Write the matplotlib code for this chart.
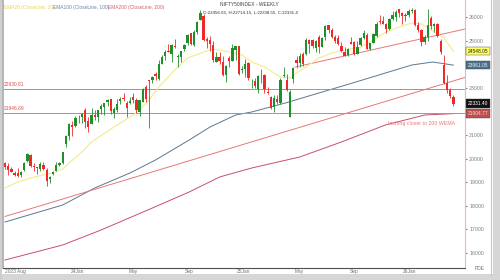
import numpy as np
import matplotlib
matplotlib.use("Agg")
import matplotlib.pyplot as plt
from matplotlib.lines import Line2D
from matplotlib.patches import Rectangle

plt.rcParams["font.family"] = ["Liberation Sans", "DejaVu Sans"]

GREEN = "#1f8f2a"
RED = "#f02828"
LINE_RED = "#e87878"

# weekly candles (Nifty 50)
opens = [19800, 19666, 19576, 19383, 19393, 19299, 19525, 19890, 20156, 19678,
         19622, 19539, 19738, 19521, 19141, 19365, 19487, 19731, 19796, 20601,
         20965, 21434, 21366, 21727, 21747, 22054, 21594, 21487, 21830, 21780,
         22095, 22169, 22403, 22517, 21946, 22051, 22455, 22579, 22339, 22336,
         22611, 22489, 21960, 22404, 23038, 23337, 23320, 23573, 23382, 23992,
         24329, 24565, 24445, 24791, 24302, 24320, 24637, 24907, 25333, 24823,
         25383, 25872, 26061, 25085, 25008, 24798, 24074, 24304, 24087, 23555,
         24253, 24140, 24620, 24753, 23738, 23801, 24046, 23195, 23290, 22941,
         23528, 23543, 22810, 22609, 22195, 22521, 22353, 23515, 23341, 21758,
         23368, 24191, 24070, 24420, 24420, 25005, 25010, 24669, 25160, 24732,
         25150, 25661, 25450, 25149, 25108, 24782, 24533, 24371, 24938, 24949,
         24432, 24802, 25118, 25239, 24634, 24899, 25182, 25844, 25844, 25696,
         25503, 25910, 26013, 26326, 26160, 26046, 26100, 26250, 26300, 25680,
         25450, 24950, 25150, 25950, 25600, 25700, 25000, 23950, 23200, 22900,
         22600]
highs = [19867, 19795, 19646, 19465, 19584, 19458, 19867, 20222, 20196, 19798,
         19661, 19849, 19843, 19593, 19276, 19464, 19876, 19875, 20291, 21006,
         21492, 21593, 21801, 21834, 21928, 22124, 21750, 22126, 22053, 22068,
         22297, 22353, 22526, 22527, 22180, 22516, 22619, 22775, 22427, 22625,
         22794, 22588, 22502, 22993, 23110, 23338, 23490, 23667, 24174, 24401,
         24592, 24854, 24861, 25078, 24419, 24563, 24867, 25268, 25333, 25433,
         25849, 26277, 26134, 25143, 25212, 24978, 24498, 24537, 24336, 23956,
         24354, 24857, 24792, 24781, 23939, 24226, 24089, 23391, 23426, 23546,
         23807, 23569, 23049, 22668, 22677, 22676, 23402, 23869, 23565, 22924,
         23873, 24359, 24457, 24526, 25116, 25071, 25080, 25030, 25223, 25136,
         25654, 25669, 25548, 25255, 25246, 24956, 24734, 24674, 25154, 24985,
         24980, 25139, 25449, 25331, 24912, 25331, 25781, 26104, 26033, 25764,
         25940, 26246, 26310, 26326, 26200, 26150, 26320, 26380, 26330, 25800,
         25500, 25250, 26350, 26050, 25750, 25750, 25050, 24400, 23540, 23000,
         22700]
lows = [19563, 19296, 19413, 19253, 19229, 19224, 19491, 19866, 19657, 19492,
        19333, 19480, 19518, 18838, 18973, 19309, 19487, 19706, 19768, 20507,
        20769, 20976, 21329, 21501, 21492, 21285, 21137, 21449, 21629, 21530,
        21876, 21861, 22244, 21905, 21710, 21985, 22303, 22458, 21778, 22306,
        22349, 21932, 21821, 22404, 22417, 21281, 23206, 23350, 23350, 23992,
        24168, 24508, 24074, 24686, 23893, 24099, 24563, 24819, 24801, 24753,
        25285, 25872, 24966, 24694, 24567, 24073, 24073, 24004, 23484, 23263,
        23873, 24140, 24180, 23537, 23647, 23460, 23344, 22986, 22976, 22787,
        23222, 22774, 22720, 22105, 21964, 22315, 22314, 23451, 22857, 21743,
        23207, 23847, 23889, 23936, 24379, 24462, 24671, 24527, 24474, 24720,
        25010, 25331, 25129, 24918, 24806, 24535, 24337, 24344, 24852, 24404,
        24432, 24751, 25085, 24630, 24588, 24877, 25152, 25718, 25711, 25318,
        25449, 25886, 25842, 25982, 25700, 25850, 26000, 26150, 25600, 25350,
        24750, 24850, 25000, 25500, 25350, 25150, 24450, 23150, 22800, 22550,
        22250]
closes = [19646, 19517, 19428, 19310, 19265, 19435, 19820, 20192, 19674, 19638,
          19653, 19751, 19542, 19047, 19230, 19425, 19732, 19795, 20268, 20969,
          21457, 21349, 21731, 21711, 21895, 21572, 21353, 21854, 21783, 22041,
          22213, 22339, 22494, 22023, 22097, 22327, 22514, 22519, 22147, 22420,
          22476, 22055, 22466, 22957, 22531, 23290, 23465, 23501, 24010, 24323,
          24502, 24530, 24834, 24718, 24367, 24541, 24823, 25236, 24852, 25356,
          25791, 26178, 25014, 24964, 24854, 24181, 24304, 24148, 23532, 23907,
          24131, 24677, 24768, 23588, 23813, 24005, 23432, 23203, 23092, 23508,
          23560, 22929, 22796, 22125, 22552, 22397, 23350, 23519, 22904, 22829,
          23851, 24039, 24346, 24008, 25019, 24853, 24751, 25003, 24718, 25112,
          25637, 25461, 25150, 24968, 24837, 24565, 24363, 24631, 24870, 24427,
          24741, 25114, 25327, 24655, 24894, 25285, 25710, 25795, 25722, 25492,
          25910, 26068, 26203, 26186, 26046, 26100, 26250, 26300, 25680, 25450,
          24950, 25150, 25650, 25600, 25700, 25200, 24500, 23200, 22900, 22650,
          22331.4]

# moving averages (week index, value)
ema20_x = [0, 4, 9, 15, 18, 20, 24, 27, 34, 41, 45, 48, 53, 57, 62, 65, 70, 74,
           77, 81, 86, 89, 91, 94, 98, 102, 106, 111, 115, 119, 123, 127, 130,
           134, 137, 140]
ema20_y = [18755, 19009, 19221, 19390, 19560, 19814, 20280, 20704, 21339, 21932,
           22483, 23034, 23754, 24263, 24517, 24644, 24517, 24390, 24093, 23882,
           23458, 23415, 23627, 23882, 24263, 24475, 24602, 24729, 25025, 25364,
           25576, 25746, 25703, 25364, 25110, 24548]
ema100_x = [0, 18, 28, 39, 47, 57.5, 64, 72, 77, 87.5, 98, 108.5, 118.75, 127,
            133.5, 140]
ema100_y = [17314, 18034, 18755, 19390, 19941, 20788, 21339, 21847, 21975, 22356,
            22780, 23203, 23627, 23966, 24093, 23961]
ema200_x = [0, 18, 30, 46, 57.5, 67, 77, 92, 105, 118.75, 131, 140]
ema200_y = [15704, 16340, 16975, 17907, 18585, 19221, 19602, 20068, 20704,
            21424, 21847, 21905]

# drawn trend lines and levels
trend_low_x = [0, 143.6]
trend_low_y = [17550, 23440]
trend_high_x = [90.6, 143.6]
trend_high_y = [23880, 25490]
levels = [22930.81, 21946.69]
level_labels = ["22930.81", "21946.69"]

yticks = [16000, 17000, 18000, 19000, 20000, 21000, 23000, 25000, 26000]
xtick_pos = [0, 22.6, 40, 57.5, 74.6, 91.7, 109, 126.4]
xtick_lab = ["2023 Aug", "24Jan", "May", "Sep", "25Jan", "May", "Sep", "26Jan"]

value_boxes = [("24548.05", 24548.05, "#ffff66", "#222222"),
               ("23961.05", 23961.05, "#4a708b", "#e8eef4"),
               ("22331.40", 22331.40, "#111111", "#ffffff"),
               ("21904.77", 21904.77, "#c05050", "#f4d0d0")]

W, H = 500, 280
fig = plt.figure(figsize=(5, 2.8), dpi=100, facecolor="white")
ax = fig.add_axes([3 / W, 12 / H, 462 / W, 268 / H])

idx = np.arange(len(closes))
o = np.array(opens, float)
c = np.array(closes, float)
cols = np.where(c >= o, GREEN, RED)

ax.plot(ema200_x, ema200_y, color="#c8506a", lw=0.7, zorder=2)
ax.plot(ema100_x, ema100_y, color="#5a7890", lw=0.7, zorder=2)
ax.plot(trend_low_x, trend_low_y, color=LINE_RED, lw=0.7, zorder=2)
ax.plot(trend_high_x, trend_high_y, color=LINE_RED, lw=0.7, zorder=2)
for lv in levels:
    ax.axhline(lv, color=LINE_RED, lw=0.7, zorder=2)
ax.plot(ema20_x, ema20_y, color="#f2ec88", lw=0.8, zorder=2)

ax.vlines(idx, lows, highs, colors=cols, lw=0.6, zorder=3)
ax.bar(idx, np.maximum(np.abs(c - o), 20), bottom=np.minimum(o, c),
       width=0.72, color=cols, linewidth=0, zorder=4)

ax.set_xlim(-0.63, 143.6)
ax.set_ylim(15365, 26720)

ax.yaxis.tick_right()
ax.set_yticks(yticks)
ax.set_yticklabels([str(v) for v in yticks])
ax.tick_params(axis="y", labelsize=3.8, colors="#808080", length=1.5, pad=1.5)
ax.set_xticks(xtick_pos)
ax.set_xticklabels(xtick_lab)
for lab in ax.get_xticklabels()[:1]:
    lab.set_ha("left")
ax.tick_params(axis="x", labelsize=3.5, colors="#707070", length=0, pad=1)

ax.spines["top"].set_visible(False)
ax.spines["left"].set_color("#a8a8a8")
ax.spines["left"].set_linewidth(1.2)
ax.spines["bottom"].set_color("#505050")
ax.spines["bottom"].set_linewidth(0.8)
ax.spines["right"].set_color("#f4b0c8")
ax.spines["right"].set_linewidth(0.8)

ytr = ax.get_yaxis_transform()
for lv, txt in zip(levels, level_labels):
    ax.annotate(txt, xy=(0.002, lv), xycoords=ytr, xytext=(0, 1.5),
                textcoords="offset points", fontsize=3.5, color="#e05050",
                ha="left", va="bottom")

for txt, val, fc, tc in value_boxes:
    ax.annotate(txt, xy=(1, val), xycoords=ytr, xytext=(2.2, 0),
                textcoords="offset points", fontsize=3.5, color=tc,
                ha="left", va="center", zorder=10, annotation_clip=False,
                bbox=dict(boxstyle="square,pad=0.35", fc=fc, ec="#404040", lw=0.3))

# header texts
fig.text(4 / W, 1 - 7 / H, "EMA20 (CloseLine, 20)", fontsize=3.5,
         color="#e0d850", va="center")
fig.text(53 / W, 1 - 7 / H, "EMA100 (CloseLine, 100)", fontsize=3.5,
         color="#6a88a8", va="center")
fig.text(108 / W, 1 - 7 / H, "EMA200 (CloseLine, 200)", fontsize=3.5,
         color="#d06070", va="center")
fig.text(220 / W, 1 - 5 / H, "NIFTY50INDEX - WEEKLY", fontsize=3.5,
         color="#404040", va="center")
fig.text(203 / W, 1 - 13 / H, "O:22456.65, H:22714.15, L:22338.55, C:22331.4",
         fontsize=3.2, color="#303030", va="center")
fig.text(388 / W, 1 - 123 / H, "Inching closer to 200 WEMA", fontsize=3.8,
         color=LINE_RED, va="center")
fig.text(480 / W, 1 - 268 / H, "PDE", fontsize=3.5, color="#707070",
         ha="center", va="center")

# window frame
fig.add_artist(Line2D([491 / W, 491 / W], [5 / H, 1], color="#f4b0c8", lw=0.8))
fig.add_artist(Rectangle((0, 0), 1, 6 / H, transform=fig.transFigure,
                         fc="#d6d6d6", ec="none"))
fig.add_artist(Rectangle((493 / W, 0), 7 / W, 1, transform=fig.transFigure,
                         fc="#d6d6d6", ec="none"))
fig.add_artist(Rectangle((0, 0), 2 / W, 1, transform=fig.transFigure,
                         fc="#cfcfcf", ec="none"))

fig.savefig("out.png", dpi=100, facecolor="white")
